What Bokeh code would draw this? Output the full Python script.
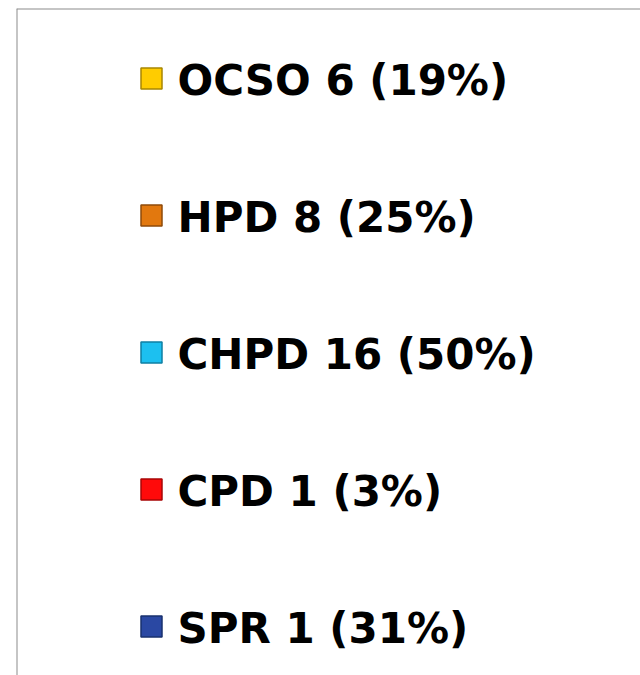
from bokeh.plotting import figure
from bokeh.models import Range1d, Span, ColumnDataSource
from bokeh.core.properties import value
from bokeh.embed import file_html
from bokeh.resources import INLINE

# Data
categories = ["OCSO", "HPD", "CHPD", "CPD", "SPR"]
counts = [6, 8, 16, 1, 1]
percents = [19, 25, 50, 3, 31]
colors = ["#FFCC00", "#E2780E", "#1CC0F0", "#FF0A0A", "#2A48A3"]
edge_colors = ["#A88600", "#8E4A08", "#0E7FA3", "#A80606", "#18306E"]

labels = [f"{c} {n} ({p}%)" for c, n, p in zip(categories, counts, percents)]

W, H = 640, 675
ML, MT = 16, 8
fw, fh = W - ML, H - MT

row_gap = 137.0
first_row = 78.0 - MT  # frame-relative px from top
n = len(categories)
rows = [n - 1 - i for i in range(n)]  # top row has highest value
y_end = (n - 1) + first_row / row_gap
y_start = y_end - fh / row_gap

p = figure(width=W, height=H, output_backend="svg", toolbar_location=None,
           x_range=Range1d(0, fw), y_range=Range1d(y_start, y_end),
           x_axis_type=None, y_axis_type=None,
           min_border_left=ML, min_border_top=MT, min_border_right=0, min_border_bottom=0)
p.grid.visible = False
p.outline_line_color = None
p.background_fill_color = "white"
p.border_fill_color = "white"

p.add_layout(Span(location=0, dimension="height", line_color="#8C8C8C", line_width=2))
p.add_layout(Span(location=y_end, dimension="width", line_color="#8C8C8C", line_width=2))

src = ColumnDataSource(dict(y=rows, label=labels, color=colors, edge=edge_colors,
                            xs=[151 - ML] * n, xt=[177 - ML] * n))
p.scatter(x="xs", y="y", source=src, marker="square", size=21,
          fill_color="color", line_color="edge", line_width=1.5)
p.text(x="xt", y="y", text="label", source=src, text_font=value("DejaVu Sans"),
       text_font_style="bold", text_font_size="42px", text_baseline="middle",
       text_align="left", text_color="black", y_offset=2)

open("out.html", "w").write(file_html(p, INLINE))
